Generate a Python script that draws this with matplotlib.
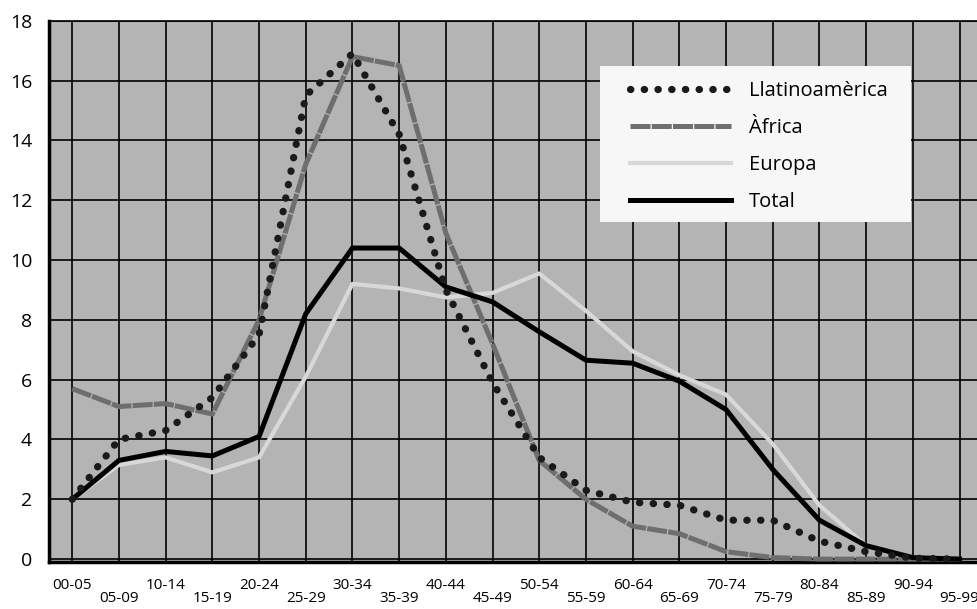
import numpy as np
import matplotlib.pyplot as plt
from matplotlib.patches import Rectangle

plt.rcParams['font.family'] = ['Open Sans', 'DejaVu Sans']

grups = ['00-05', '05-09', '10-14', '15-19', '20-24', '25-29', '30-34', '35-39',
         '40-44', '45-49', '50-54', '55-59', '60-64', '65-69', '70-74', '75-79',
         '80-84', '85-89', '90-94', '95-99']
llatinoamerica = [2.0, 4.0, 4.3, 5.4, 7.5, 15.5, 16.9, 14.2, 9.0, 5.9,
                  3.4, 2.3, 1.9, 1.8, 1.3, 1.3, 0.6, 0.25, 0.03, 0.0]
africa = [5.7, 5.1, 5.2, 4.85, 8.0, 13.2, 16.8, 16.5, 10.9, 7.2,
          3.3, 2.0, 1.1, 0.85, 0.25, 0.05, 0.0, 0.0, 0.0, 0.0]
europa = [2.0, 3.15, 3.4, 2.9, 3.4, 6.1, 9.2, 9.05, 8.75, 8.9,
          9.55, 8.3, 6.95, 6.15, 5.5, 3.85, 1.8, 0.45, 0.05, 0.0]
total = [2.0, 3.3, 3.6, 3.45, 4.1, 8.2, 10.4, 10.4, 9.1, 8.6,
         7.6, 6.65, 6.55, 5.95, 5.0, 3.0, 1.3, 0.45, 0.05, 0.0]

x = np.arange(len(grups))

fig = plt.figure(figsize=(9.78, 6.09), dpi=100)
ax = fig.add_axes([0.050, 0.077, 0.955, 0.889])
ax.set_facecolor('#b4b4b4')

ax.plot(x, europa, color='#d8d8d8', lw=3, label='Europa', zorder=3)
ax.plot(x, africa, color='#6e6e6e', lw=3.6, ls=(0, (4, 0.25)), label='Àfrica', zorder=4)
ax.plot(x, total, color='black', lw=3.6, label='Total', zorder=5)
ax.plot(x, llatinoamerica, color='#1a1a1a', lw=5.2, ls=(0, (0.05, 1.85)),
        dash_capstyle='round', label='Llatinoamèrica', zorder=6)

ax.set_xlim(-0.5, 19.5)
ax.set_ylim(-0.1, 18)
ax.set_yticks(np.arange(0, 19, 2))
ax.set_xticks(x)
ax.grid(True, color='black', lw=1.2, zorder=1)
ax.set_axisbelow(True)
ax.tick_params(length=0)
ax.tick_params(axis='y', labelsize=14, pad=12)
ax.set_xticklabels(grups, fontsize=11)
for i, t in enumerate(ax.get_xticklabels()):
    t.set_y(-0.02 if i % 2 == 0 else -0.045)

for s in ['left', 'bottom']:
    ax.spines[s].set_linewidth(2.5)
ax.spines['top'].set_linewidth(1.2)
ax.spines['right'].set_visible(False)

# white box behind the legend
box = Rectangle((600 / 978, 1 - 222 / 609), 311 / 978, 156 / 609,
                transform=fig.transFigure, facecolor='#f7f7f7',
                edgecolor='none', zorder=9, clip_on=False)
ax.add_patch(box)

h, l = ax.get_legend_handles_labels()
order = [3, 1, 0, 2]
leg = ax.legend([h[i] for i in order], [l[i] for i in order],
                loc='upper left', bbox_to_anchor=(0.622, 0.889),
                borderaxespad=0, borderpad=0,
                fontsize=14.5, handlelength=5.0, handletextpad=0.9,
                labelspacing=0.85, frameon=False)
leg.set_zorder(10)

fig.savefig('out.png', dpi=100)
